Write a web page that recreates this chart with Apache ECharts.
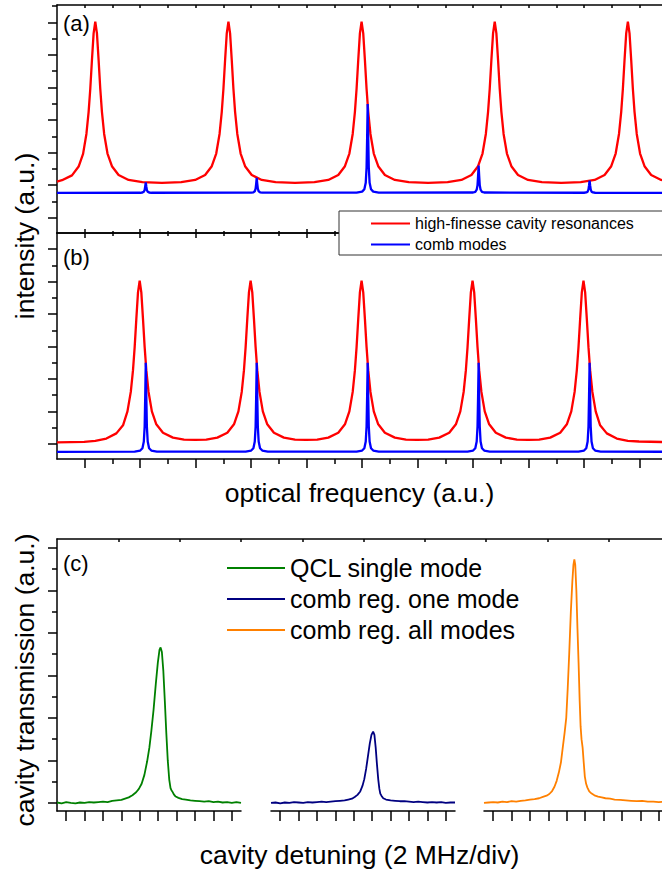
<!DOCTYPE html>
<html><head><meta charset="utf-8">
<script src="https://cdn.jsdelivr.net/npm/echarts@6/dist/echarts.min.js"></script>
<style>html,body{margin:0;padding:0;background:#fff}#c{width:662px;height:870px}</style>
</head><body><div id="c"></div>
<script>
// ---------- data: panel (a) ----------
const redA = [[-0.5,1.11],[-0.41,1.15],[-0.23,1.30],[-0.11,1.57],[-0.03,1.96],[0.03,2.57],[0.07,3.25],[0.10,3.96],[0.13,4.84],[0.16,5.66],[0.19,6.02],[0.22,5.66],[0.25,4.84],[0.28,3.96],[0.31,3.25],[0.35,2.57],[0.41,1.97],[0.49,1.58],[0.61,1.31],[0.79,1.16],[1.04,1.09],[1.39,1.07],
[1.74,1.09],[1.99,1.16],[2.17,1.31],[2.29,1.58],[2.37,1.97],[2.43,2.57],[2.47,3.25],[2.50,3.96],[2.53,4.84],[2.56,5.66],[2.59,6.02],[2.62,5.66],[2.65,4.84],[2.68,3.96],[2.71,3.25],[2.75,2.57],[2.81,1.97],[2.89,1.58],[3.01,1.31],[3.19,1.16],[3.44,1.09],[3.79,1.07],
[4.14,1.09],[4.39,1.16],[4.57,1.31],[4.69,1.58],[4.77,1.97],[4.83,2.57],[4.87,3.25],[4.90,3.96],[4.93,4.84],[4.96,5.66],[4.99,6.02],[5.02,5.66],[5.05,4.84],[5.08,3.96],[5.11,3.25],[5.15,2.57],[5.21,1.97],[5.29,1.58],[5.41,1.31],[5.59,1.16],[5.84,1.09],[6.19,1.07],
[6.54,1.09],[6.79,1.16],[6.97,1.31],[7.09,1.58],[7.17,1.97],[7.23,2.57],[7.27,3.25],[7.30,3.96],[7.33,4.84],[7.36,5.66],[7.39,6.02],[7.42,5.66],[7.45,4.84],[7.48,3.96],[7.51,3.25],[7.55,2.57],[7.61,1.97],[7.69,1.58],[7.81,1.31],[7.99,1.16],[8.24,1.09],[8.59,1.07],
[8.94,1.09],[9.19,1.16],[9.37,1.31],[9.49,1.58],[9.57,1.97],[9.63,2.57],[9.67,3.25],[9.70,3.96],[9.73,4.84],[9.76,5.66],[9.79,6.02],[9.82,5.66],[9.85,4.84],[9.88,3.96],[9.91,3.25],[9.95,2.57],[10.01,1.97],[10.09,1.58],[10.21,1.31],[10.39,1.16],[10.64,1.09],[11.0,1.07]];

const blueA = [[-0.5,0.76],[1.0,0.765],[1.04,0.773],[1.065,0.797],[1.08,0.85],[1.09,0.96],[1.1,1.08],[1.11,0.96],[1.12,0.85],[1.135,0.797],[1.16,0.773],[1.2,0.765],
[3.0,0.767],[3.04,0.78],[3.065,0.81],[3.08,0.89],[3.09,1.04],[3.1,1.22],[3.11,1.04],[3.12,0.89],[3.135,0.81],[3.16,0.78],[3.2,0.767],
[4.9,0.77],[5.0,0.80],[5.04,0.875],[5.065,1.07],[5.08,1.54],[5.09,2.44],[5.1,3.49],[5.11,2.44],[5.12,1.54],[5.135,1.07],[5.16,0.875],[5.2,0.80],[5.3,0.77],
[7.0,0.773],[7.04,0.795],[7.065,0.86],[7.08,1.0],[7.09,1.28],[7.1,1.60],[7.11,1.28],[7.12,1.0],[7.135,0.86],[7.16,0.795],[7.2,0.773],
[9.0,0.766],[9.04,0.776],[9.065,0.80],[9.08,0.87],[9.09,0.99],[9.1,1.14],[9.11,0.99],[9.12,0.87],[9.135,0.80],[9.16,0.776],[9.2,0.766],[11.0,0.76]];

// ---------- data: panel (b) ----------
const redB = [[-0.5,0.04],[-0.01,0.06],[0.19,0.09],[0.39,0.16],[0.57,0.32],[0.69,0.57],[0.77,1.00],[0.83,1.60],[0.87,2.27],[0.90,2.98],[0.93,3.85],[0.96,4.67],[0.99,5.03],[1.02,4.67],[1.05,3.85],[1.08,2.98],[1.11,2.27],[1.15,1.60],[1.21,1.00],[1.29,0.60],[1.41,0.34],[1.59,0.19],[1.79,0.13],[1.99,0.12],
[2.19,0.13],[2.39,0.19],[2.57,0.34],[2.69,0.60],[2.77,1.00],[2.83,1.60],[2.87,2.27],[2.90,2.98],[2.93,3.85],[2.96,4.67],[2.99,5.03],[3.02,4.67],[3.05,3.85],[3.08,2.98],[3.11,2.27],[3.15,1.60],[3.21,1.00],[3.29,0.60],[3.41,0.34],[3.59,0.19],[3.79,0.13],[3.99,0.12],
[4.19,0.13],[4.39,0.19],[4.57,0.34],[4.69,0.60],[4.77,1.00],[4.83,1.60],[4.87,2.27],[4.90,2.98],[4.93,3.85],[4.96,4.67],[4.99,5.03],[5.02,4.67],[5.05,3.85],[5.08,2.98],[5.11,2.27],[5.15,1.60],[5.21,1.00],[5.29,0.60],[5.41,0.34],[5.59,0.19],[5.79,0.13],[5.99,0.12],
[6.19,0.13],[6.39,0.19],[6.57,0.34],[6.69,0.60],[6.77,1.00],[6.83,1.60],[6.87,2.27],[6.90,2.98],[6.93,3.85],[6.96,4.67],[6.99,5.03],[7.02,4.67],[7.05,3.85],[7.08,2.98],[7.11,2.27],[7.15,1.60],[7.21,1.00],[7.29,0.60],[7.41,0.34],[7.59,0.19],[7.79,0.13],[7.99,0.12],
[8.19,0.13],[8.39,0.19],[8.57,0.34],[8.69,0.60],[8.77,1.00],[8.83,1.60],[8.87,2.27],[8.90,2.98],[8.93,3.85],[8.96,4.67],[8.99,5.03],[9.02,4.67],[9.05,3.85],[9.08,2.98],[9.11,2.27],[9.15,1.60],[9.21,1.00],[9.29,0.57],[9.41,0.32],[9.59,0.16],[9.79,0.09],[9.99,0.07],[10.5,0.05],[11.0,0.04]];

const blueB = [[-0.5,-0.25],[0.9,-0.24],[1.0,-0.21],[1.04,-0.14],[1.065,0.07],[1.08,0.53],[1.09,1.44],[1.1,2.5],[1.11,1.44],[1.12,0.53],[1.135,0.07],[1.16,-0.14],[1.2,-0.21],[1.3,-0.24],
[2.9,-0.24],[3.0,-0.21],[3.04,-0.14],[3.065,0.07],[3.08,0.53],[3.09,1.44],[3.1,2.5],[3.11,1.44],[3.12,0.53],[3.135,0.07],[3.16,-0.14],[3.2,-0.21],[3.3,-0.24],
[4.9,-0.24],[5.0,-0.21],[5.04,-0.14],[5.065,0.07],[5.08,0.53],[5.09,1.44],[5.1,2.5],[5.11,1.44],[5.12,0.53],[5.135,0.07],[5.16,-0.14],[5.2,-0.21],[5.3,-0.24],
[6.9,-0.24],[7.0,-0.21],[7.04,-0.14],[7.065,0.07],[7.08,0.53],[7.09,1.44],[7.1,2.5],[7.11,1.44],[7.12,0.53],[7.135,0.07],[7.16,-0.14],[7.2,-0.21],[7.3,-0.24],
[8.9,-0.24],[9.0,-0.21],[9.04,-0.14],[9.065,0.07],[9.08,0.53],[9.09,1.44],[9.1,2.5],[9.11,1.44],[9.12,0.53],[9.135,0.07],[9.16,-0.14],[9.2,-0.21],[9.3,-0.24],[11.0,-0.25]];

// ---------- data: panel (c) ----------
const qclSingle = [[-0.5,0.01],[-0.25,-0.01],[0,0.02],[0.25,0.0],[0.5,-0.01],[0.75,0.01],[1,0.0],[1.25,0.02],[1.5,0.01],[1.75,0.02],[2,0.03],[2.25,0.02],[2.5,0.05],[2.75,0.06],[3,0.07],[3.2,0.1],[3.4,0.13],[3.6,0.18],[3.8,0.25],[3.95,0.33],[4.1,0.45],[4.25,0.66],[4.4,0.98],[4.52,1.3],[4.63,1.7],[4.75,2.2],[4.87,2.8],[4.98,3.3],[5.07,3.6],[5.13,3.66],[5.2,3.55],[5.28,3.1],[5.36,2.4],[5.44,1.65],[5.52,1.0],[5.6,0.55],[5.67,0.35],[5.72,0.3],[5.78,0.26],[5.85,0.2],[5.95,0.15],[6.1,0.12],[6.3,0.09],[6.5,0.08],[6.75,0.06],[7,0.05],[7.25,0.04],[7.5,0.03],[7.75,0.04],[8,0.02],[8.25,0.03],[8.5,0.01],[8.75,0.02],[9,0.0],[9.25,0.02],[9.5,0.0]];
const combOne = [[-0.5,0.0],[-0.25,0.01],[0,-0.01],[0.25,0.01],[0.5,0.0],[0.75,0.02],[1,0.01],[1.25,0.0],[1.5,0.02],[1.75,0.01],[2,0.02],[2.25,0.03],[2.5,0.02],[2.75,0.03],[3,0.04],[3.25,0.05],[3.5,0.06],[3.7,0.08],[3.9,0.1],[4.05,0.14],[4.2,0.19],[4.35,0.27],[4.47,0.4],[4.57,0.56],[4.67,0.8],[4.77,1.1],[4.87,1.4],[4.96,1.6],[5.05,1.68],[5.12,1.6],[5.19,1.3],[5.26,0.9],[5.33,0.55],[5.39,0.33],[5.44,0.22],[5.5,0.17],[5.6,0.11],[5.75,0.08],[6,0.06],[6.25,0.05],[6.5,0.04],[6.75,0.04],[7,0.03],[7.25,0.02],[7.5,0.03],[7.75,0.02],[8,0.01],[8.25,0.02],[8.5,0.01],[8.75,0.02],[9,0.0],[9.25,0.01],[9.5,0.01]];
const combAll = [[-0.5,0.0],[-0.25,0.01],[0,0.02],[0.25,0.01],[0.5,0.03],[0.75,0.02],[1,0.04],[1.25,0.03],[1.5,0.05],[1.75,0.06],[2,0.08],[2.25,0.09],[2.5,0.11],[2.7,0.14],[2.9,0.17],[3.05,0.21],[3.2,0.28],[3.33,0.38],[3.45,0.52],[3.57,0.72],[3.68,0.95],[3.78,1.3],[3.88,1.65],[3.97,2.0],[4.05,2.7],[4.13,3.5],[4.22,4.5],[4.3,5.2],[4.36,5.6],[4.41,5.73],[4.46,5.6],[4.52,5.0],[4.58,4.1],[4.64,3.3],[4.7,2.4],[4.75,1.8],[4.8,1.5],[4.86,1.3],[4.92,0.95],[4.98,0.62],[5.05,0.45],[5.12,0.36],[5.22,0.27],[5.35,0.22],[5.5,0.18],[5.7,0.15],[5.9,0.13],[6.1,0.11],[6.35,0.1],[6.6,0.08],[6.9,0.07],[7.2,0.06],[7.5,0.05],[7.8,0.04],[8.1,0.05],[8.4,0.03],[8.7,0.03],[9,0.02],[9.25,0.03],[9.5,0.02]];

// ---------- tick positions ----------
const xMajorAB = [0,1,2,3,4,5,6,7,8,9,10,11];
const xMinorAB = [0.5,1.5,2.5,3.5,4.5,5.5,6.5,7.5,8.5,9.5,10.5];
const xTopA = [0,0.5,1,1.5,2,2.5,3,3.5,4,4.5,5,5.5,6,6.5,7,7.5,8,8.5,9,9.5,10,10.5,11];
const yMajor = [0,1,2,3,4,5,6];
const yMinorA = [0.5,1.5,2.5,3.5,4.5,5.5,6.5];
const yMinorB = [0.5,1.5,2.5,3.5,4.5,5.5];
const xTopC = [1,2,3,4,5,6,7,8,9,10];
const xSegC = [0,1,2,3,4,5,6,7,8,9];

// ---------- text ----------
const legendA = ['high-finesse cavity resonances','comb modes'];
const legendC = ['QCL single mode','comb reg. one mode','comb reg. all modes'];

const FONT = '"Liberation Sans", Arial, Helvetica, sans-serif';
const AX = '#000';
const LW = 1.5;

function axis(gridIndex, position, min, max, ticks, len, inside, showLine, show) {
  return {
    type: 'value', gridIndex: gridIndex, position: position, min: min, max: max,
    show: show !== false,
    splitLine: {show: false}, splitArea: {show: false},
    axisLabel: {show: false},
    axisLine: {show: showLine, onZero: false, lineStyle: {color: AX, width: LW}},
    axisTick: {show: ticks.length > 0, inside: inside, length: len, customValues: ticks,
               lineStyle: {color: AX, width: LW}},
    minorTick: {show: false},
    axisPointer: {show: false}
  };
}

const chart = echarts.init(document.getElementById('c'), null, {renderer: 'svg'});

function txt(text, x, y, size, rot) {
  return {type: 'text', x: x, y: y, rotation: rot || 0, silent: true,
    style: {text: text, fill: '#000', fontSize: size, fontFamily: FONT,
            align: 'center', verticalAlign: 'middle', textAlign: 'center', textVerticalAlign: 'middle'}};
}
function lbl(text, x, y) {
  return {type: 'text', x: x, y: y, silent: true,
    style: {text: text, fill: '#000', fontSize: 22, fontFamily: FONT,
            align: 'left', verticalAlign: 'middle', textAlign: 'left', textVerticalAlign: 'middle'}};
}

function line(name, data, xi, yi, color, w) {
  return {type: 'line', name: name, data: data, xAxisIndex: xi, yAxisIndex: yi,
    showSymbol: false, symbol: 'none', silent: true, smooth: false,
    lineStyle: {color: color, width: w}, itemStyle: {color: color}};
}

const gridBase = {containLabel: false, outerBoundsMode: 'none', show: false};

chart.setOption({
  animation: false,
  backgroundColor: '#fff',
  textStyle: {fontFamily: FONT},
  grid: [
    Object.assign({left: 57, top: 5, width: 638, height: 228}, gridBase),
    Object.assign({left: 57, top: 233, width: 638, height: 226}, gridBase),
    Object.assign({left: 57, top: 539, width: 650, height: 272}, gridBase),
    Object.assign({left: 57, top: 539, width: 184, height: 272}, gridBase),
    Object.assign({left: 271, top: 539, width: 184, height: 272}, gridBase),
    Object.assign({left: 484, top: 539, width: 184, height: 272}, gridBase)
  ],
  xAxis: [
    axis(0, 'bottom', -0.5, 11, xMajorAB, 4, true, true),
    axis(0, 'bottom', -0.5, 11, xMinorAB, 2, true, false),
    axis(0, 'top', -0.5, 11, xTopA, 3, true, true),
    axis(1, 'bottom', -0.5, 11, xMajorAB, 9, false, true),
    axis(1, 'bottom', -0.5, 11, xMinorAB, 5, false, false),
    axis(1, 'top', -0.5, 11, xMajorAB, 5, true, true),
    axis(1, 'top', -0.5, 11, xMinorAB, 3, true, false),
    axis(2, 'top', 0, 10.6, xTopC, 3, true, true),
    axis(3, 'bottom', -0.5, 9.5, xSegC, 10, false, true),
    axis(4, 'bottom', -0.5, 9.5, xSegC, 10, false, true),
    axis(5, 'bottom', -0.5, 9.5, xSegC, 10, false, true)
  ],
  yAxis: [
    axis(0, 'left', -0.47, 6.53, yMajor, 9, false, true),
    axis(0, 'left', -0.47, 6.53, yMinorA, 5, false, false),
    axis(1, 'left', -0.47, 6.5, yMajor, 9, false, true),
    axis(1, 'left', -0.47, 6.5, yMinorB, 5, false, false),
    axis(2, 'left', -0.19, 6.21, yMajor, 9, false, true),
    axis(2, 'left', -0.19, 6.21, yMinorB, 5, false, false),
    axis(3, 'left', -0.19, 6.21, [], 0, false, false, false),
    axis(4, 'left', -0.19, 6.21, [], 0, false, false, false),
    axis(5, 'left', -0.19, 6.21, [], 0, false, false, false)
  ],
  legend: [
    {data: legendA, orient: 'vertical', left: 339, top: 211, padding: [2, 400, 0, 32],
     itemGap: 0, itemWidth: 39, itemHeight: 2, icon: 'rect', selectedMode: false,
     backgroundColor: '#fff', borderColor: '#333', borderWidth: 1, borderRadius: 0,
     textStyle: {fontSize: 16, fontFamily: FONT, color: '#000', lineHeight: 21}},
    {data: legendC, orient: 'vertical', left: 227, top: 552.5, padding: 0,
     itemGap: 0, itemWidth: 58, itemHeight: 2, icon: 'rect', selectedMode: false,
     textStyle: {fontSize: 25, fontFamily: FONT, color: '#000', lineHeight: 31}}
  ],
  series: [
    line(legendA[0], redA, 0, 0, '#ff0000', 2.3),
    line(legendA[1], blueA, 0, 0, '#0000ff', 2.3),
    line(legendA[0], redB, 3, 2, '#ff0000', 2.3),
    line(legendA[1], blueB, 3, 2, '#0000ff', 2.3),
    line(legendC[0], qclSingle, 8, 6, '#008000', 1.8),
    line(legendC[1], combOne, 9, 7, '#000080', 1.8),
    line(legendC[2], combAll, 10, 8, '#ff8000', 1.8)
  ],
  graphic: [
    lbl('(a)', 63, 23),
    lbl('(b)', 63, 257),
    lbl('(c)', 63, 563),
    txt('intensity (a.u.)', 25, 236, 26.5, Math.PI / 2),
    txt('optical frequency (a.u.)', 359.5, 493, 26.5, 0),
    txt('cavity transmission (a.u.)', 25, 680, 26.5, Math.PI / 2),
    txt('cavity detuning (2 MHz/div)', 359.5, 855, 26.5, 0)
  ]
});
</script>
</body></html>
